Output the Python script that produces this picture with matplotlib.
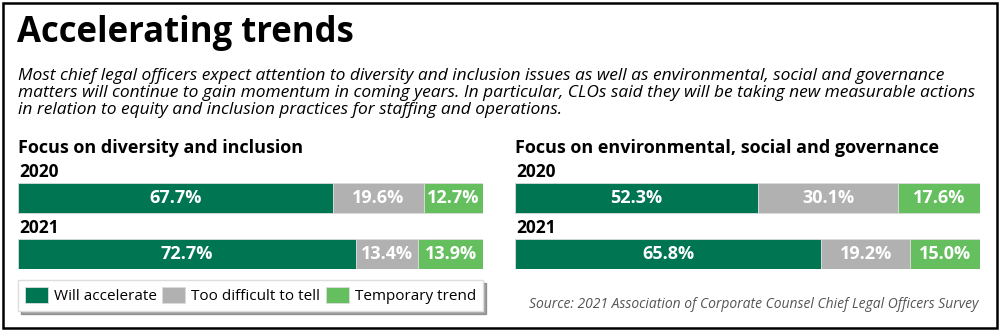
import matplotlib
matplotlib.use('Agg')
import matplotlib.pyplot as plt
from matplotlib.patches import Rectangle

# data
years = ['2020', '2021']
categories = ['Will accelerate', 'Too difficult to tell', 'Temporary trend']
di_values = [[67.7, 19.6, 12.7], [72.7, 13.4, 13.9]]
esg_values = [[52.3, 30.1, 17.6], [65.8, 19.2, 15.0]]
panel_titles = ['Focus on diversity and inclusion',
                'Focus on environmental, social and governance']
colors = ['#007552', '#b1b1b1', '#65bf5f']

title = 'Accelerating trends'
subtitle = ('Most chief legal officers expect attention to diversity and inclusion issues as well as environmental, social and governance\n'
            'matters will continue to gain momentum in coming years. In particular, CLOs said they will be taking new measurable actions\n'
            'in relation to equity and inclusion practices for staffing and operations.')
source = 'Source: 2021 Association of Corporate Counsel Chief Legal Officers Survey'

plt.rcParams['font.family'] = ['Open Sans', 'DejaVu Sans']

W, H = 1000, 331
fig = plt.figure(figsize=(W / 100, H / 100), dpi=100)


def fx(px):
    return px / W


def fy(py):
    return 1 - py / H


# outer frame
fig.patches.append(Rectangle((fx(3), fy(328)), fx(994), 325 / H, transform=fig.transFigure,
                             fill=False, edgecolor='black', linewidth=1.8))

fig.text(fx(17), fy(33), title, fontsize=25, fontweight='bold', va='center', ha='left')
fig.text(fx(18), fy(93), subtitle, fontsize=12.55, style='italic', va='center', ha='left',
         linespacing=1.12)


def draw_panel(x0, values, ptitle):
    ax = fig.add_axes([fx(x0), fy(269), fx(465), 86 / H])
    ypos = [1, 0]
    bars = []
    left = [0, 0]
    for j, cat in enumerate(categories):
        vals = [values[i][j] for i in range(len(years))]
        b = ax.barh(ypos, vals, left=left, height=30 / 56, color=colors[j],
                    edgecolor='#dcdcdc', linewidth=0.6, label=cat)
        bars.append(b)
        for i, v in enumerate(vals):
            ax.text(left[i] + v / 2, ypos[i], f'{v:.1f}%', color='white', fontsize=13,
                    fontweight='bold', ha='center', va='center')
        left = [left[i] + vals[i] for i in range(len(years))]
    ax.set_xlim(0, 100)
    ax.set_ylim(-15 / 56, 1 + 15 / 56)
    ax.axis('off')
    fig.text(fx(x0), fy(148), ptitle, fontsize=13, fontweight='bold', va='center', ha='left')
    fig.text(fx(x0 + 1), fy(172), years[0], fontsize=12.5, fontweight='bold', va='center', ha='left')
    fig.text(fx(x0 + 1), fy(228), years[1], fontsize=12.5, fontweight='bold', va='center', ha='left')
    return bars


bars = draw_panel(18, di_values, panel_titles[0])
draw_panel(515, esg_values, panel_titles[1])

leg = fig.legend(handles=bars, labels=categories, loc='lower left', mode='expand',
                 bbox_to_anchor=(fx(18), fy(311), fx(465), 31 / H), ncol=3, fontsize=11,
                 frameon=True, fancybox=False, shadow=True, edgecolor='#dddddd',
                 handlelength=1.5, handleheight=1.3, columnspacing=1.0, handletextpad=0.4,
                 borderpad=0.45, borderaxespad=0)

fig.text(fx(978), fy(305), source, fontsize=10, style='italic', color='#555555',
         va='center', ha='right')

fig.savefig('out.png', dpi=100)
